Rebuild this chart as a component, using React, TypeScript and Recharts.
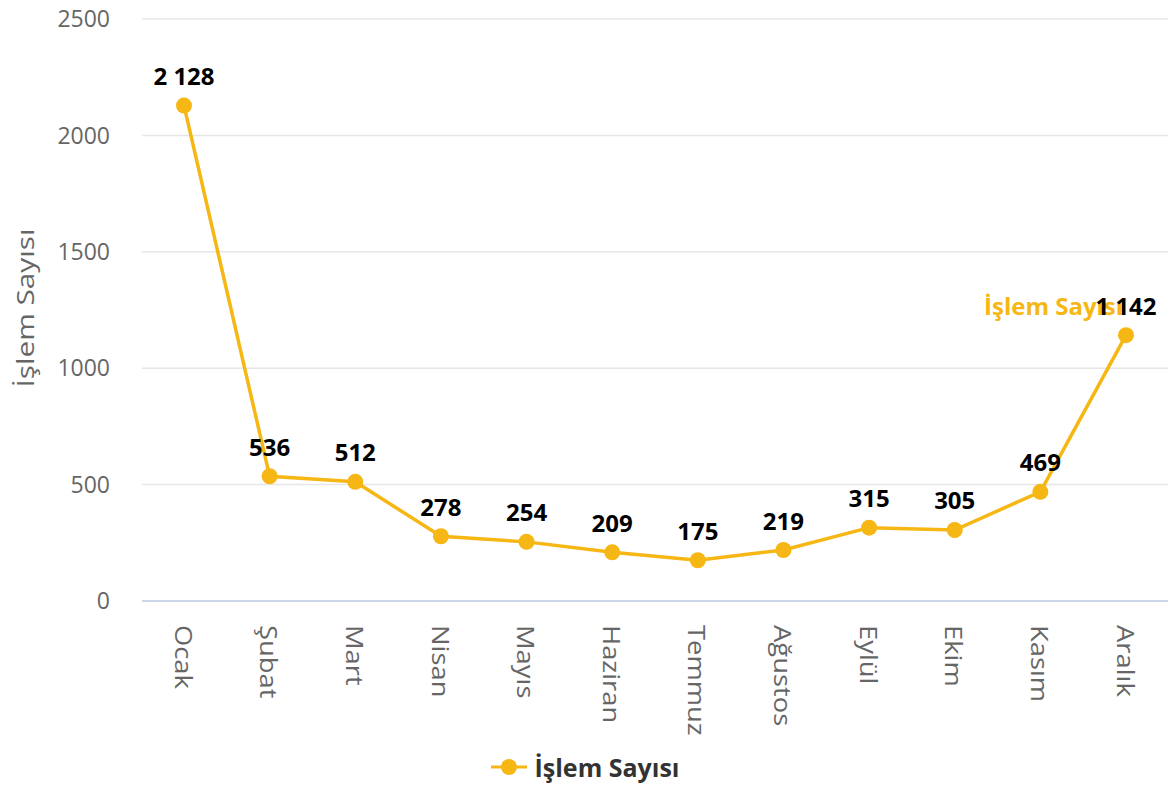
import { LineChart, Line, XAxis, YAxis, CartesianGrid, Legend, LabelList } from 'recharts';

const months = ['Ocak', 'Şubat', 'Mart', 'Nisan', 'Mayıs', 'Haziran', 'Temmuz', 'Ağustos', 'Eylül', 'Ekim', 'Kasım', 'Aralık'];
const islemSayisi = [2128, 536, 512, 278, 254, 209, 175, 219, 315, 305, 469, 1142];
const yTicks = [0, 500, 1000, 1500, 2000, 2500];
const seriesName = 'İşlem Sayısı';

const data = months.map((m, i) => ({ name: m, value: islemSayisi[i] }));

const GOLD = '#F6B714';
const FONT = '"Open Sans", "DejaVu Sans", sans-serif';

const fmt = (v: number) => String(v).replace(/\B(?=(\d{3})+(?!\d))/g, ' ');

// category labels read top to bottom, a bit stretched along their length like the original
const XTick = ({ x, y, payload }: any) => (
  <text
    transform={`translate(${x} ${y}) rotate(90) scale(1.14 1)`}
    x={0}
    y={0}
    textAnchor="start"
    dominantBaseline="central"
    fill="#666"
    fontSize={24}
    fontFamily={FONT}
  >
    {payload.value}
  </text>
);

const PointLabel = (props: any) => {
  const { x, y, value, index } = props;
  const last = index === islemSayisi.length - 1;
  return (
    <g>
      {last && (
        <text x={x - 142} y={y - 30} fill={GOLD} fontSize={24} fontWeight={700} fontFamily={FONT} dominantBaseline="central">
          {seriesName}
        </text>
      )}
      <text x={x} y={y - 30} textAnchor="middle" dominantBaseline="central" fill="#000" fontSize={24} fontWeight={700} fontFamily={FONT}>
        {fmt(value)}
      </text>
    </g>
  );
};

const LegendContent = () => (
  <div style={{ display: 'flex', justifyContent: 'center', alignItems: 'center', height: 40 }}>
    <svg width={40} height={20} style={{ marginRight: 6 }}>
      <line x1={2} y1={10} x2={38} y2={10} stroke={GOLD} strokeWidth={3} />
      <circle cx={20} cy={10} r={8} fill={GOLD} />
    </svg>
    <span style={{ fontFamily: FONT, fontSize: 25, fontWeight: 700, color: '#333' }}>{seriesName}</span>
  </div>
);

export default function App() {
  return (
    <div style={{ position: 'absolute', left: 0, top: 0, width: 1174, height: 791, background: '#fff' }}>
      <LineChart width={1174} height={791} data={data} margin={{ top: 19, right: 6, left: 0, bottom: 4 }}>
        <CartesianGrid vertical={false} stroke="#e6e6e6" strokeWidth={1.5} />
        <XAxis
          dataKey="name"
          interval={0}
          height={146}
          padding={{ left: 42, right: 42 }}
          tick={<XTick />}
          tickLine={false}
          tickMargin={18}
          axisLine={{ stroke: '#ccd6eb', strokeWidth: 2 }}
        />
        <YAxis
          domain={[0, 2500]}
          ticks={yTicks}
          width={142}
          axisLine={false}
          tickLine={false}
          tickMargin={26}
          tick={{ fill: '#666', fontSize: 23, fontFamily: FONT }}
        />
        <Legend verticalAlign="bottom" align="center" content={<LegendContent />} wrapperStyle={{ height: 40 }} />
        <Line
          type="linear"
          dataKey="value"
          name={seriesName}
          stroke={GOLD}
          strokeWidth={3.5}
          dot={{ r: 8, fill: GOLD, stroke: GOLD, strokeWidth: 0 }}
          activeDot={false}
          isAnimationActive={false}
        >
          <LabelList dataKey="value" content={<PointLabel />} />
        </Line>
        <text
          transform="translate(25 308) rotate(-90) scale(1.24 1)"
          x={0}
          y={0}
          textAnchor="middle"
          dominantBaseline="central"
          fill="#666"
          fontSize={24}
          fontFamily={FONT}
        >
          {seriesName}
        </text>
      </LineChart>
    </div>
  );
}
